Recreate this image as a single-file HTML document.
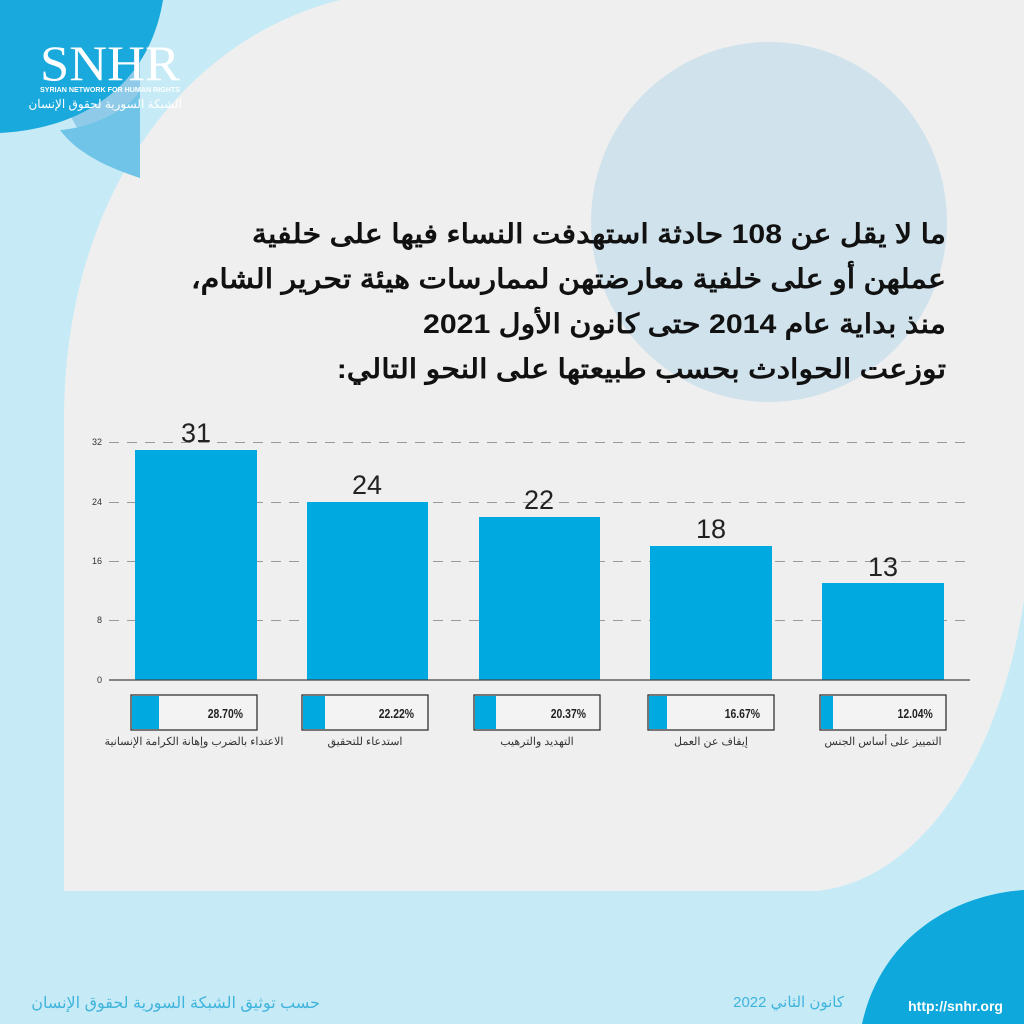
<!DOCTYPE html>
<html><head><meta charset="utf-8"><style>
html,body{margin:0;padding:0;}
body{width:1024px;height:1024px;position:relative;overflow:hidden;background:#c6ebf6;font-family:"Liberation Sans","Noto Sans CJK SC",sans-serif;}
.a{position:absolute;}
.ar{position:absolute;direction:rtl;text-align:right;white-space:nowrap;font-family:"Liberation Sans","Noto Sans CJK SC",sans-serif;}
.lb{position:absolute;width:240px;text-align:center;direction:rtl;white-space:nowrap;font-size:11px;color:#333;top:735px;}
</style></head><body>
<svg class="a" style="left:0;top:0" width="1024" height="1024">
  <path d="M64,891 L64,420 C64,200 180,40 340,0 L1024,0 L1024,600 C1000,760 920,880 817,891 Z" fill="#efefef"/>
  <ellipse cx="769" cy="222" rx="178" ry="180" fill="#d0e2ec"/>
  <path d="M40,0 L140,0 L140,178 C90,160 55,120 40,0Z" fill="#8fcbe8"/>
  <path d="M0,0 L163,0 C150,80 90,128 0,133 Z" fill="#1aa9dd"/>
  <path d="M60,130 C90,128 130,110 140,90 L140,178 C100,165 75,150 60,130Z" fill="#6fc4e8"/>
  <path d="M862,1024 C880,940 950,895 1024,890 L1024,1024Z" fill="#0fa8dc"/>
  <g stroke="#9a9a9a" stroke-width="1" stroke-dasharray="10,8">
    <line x1="109" y1="442.5" x2="970" y2="442.5"/>
    <line x1="109" y1="502.5" x2="970" y2="502.5"/>
    <line x1="109" y1="561.5" x2="970" y2="561.5"/>
    <line x1="109" y1="620.5" x2="970" y2="620.5"/>
  </g>
  <g fill="#00a9df">
    <rect x="135" y="450" width="122" height="230"/>
    <rect x="307" y="502" width="121" height="178"/>
    <rect x="479" y="517" width="121" height="163"/>
    <rect x="650" y="546" width="122" height="134"/>
    <rect x="822" y="583" width="122" height="97"/>
  </g>
  <line x1="109" y1="680" x2="970" y2="680" stroke="#444" stroke-width="1.3"/>
  <g font-family="Liberation Sans" font-size="9" fill="#333" text-anchor="end">
    <text x="102" y="445">32</text><text x="102" y="505">24</text><text x="102" y="564">16</text><text x="102" y="623">8</text><text x="102" y="683">0</text>
  </g>
  <g font-family="Liberation Sans" font-size="27" fill="#222" text-anchor="middle">
    <text x="196" y="442">31</text><text x="367" y="494">24</text><text x="539" y="509">22</text><text x="711" y="538">18</text><text x="883" y="576">13</text>
  </g>
  <g stroke="#333" stroke-width="1.3" fill="#f3f3f3">
    <rect x="131" y="695" width="126" height="35"/>
    <rect x="302" y="695" width="126" height="35"/>
    <rect x="474" y="695" width="126" height="35"/>
    <rect x="648" y="695" width="126" height="35"/>
    <rect x="820" y="695" width="126" height="35"/>
  </g>
  <g fill="#00a9df">
    <rect x="132" y="696" width="27" height="33"/>
    <rect x="303" y="696" width="22" height="33"/>
    <rect x="475" y="696" width="21" height="33"/>
    <rect x="649" y="696" width="18" height="33"/>
    <rect x="821" y="696" width="12" height="33"/>
  </g>
  <g font-family="Liberation Sans" font-size="13" font-weight="bold" fill="#222" text-anchor="end" transform="scale(0.8,1)">
    <text x="303.75" y="718">28.70%</text><text x="517.5" y="718">22.22%</text><text x="732.5" y="718">20.37%</text><text x="950" y="718">16.67%</text><text x="1166" y="718">12.04%</text>
  </g>
  <text x="40" y="80" font-family="Liberation Serif" font-size="50" fill="#fff" textLength="140" lengthAdjust="spacingAndGlyphs">SNHR</text>
  <text x="40" y="92" font-family="Liberation Sans" font-size="7.5" font-weight="bold" fill="#fff" textLength="140" lengthAdjust="spacingAndGlyphs">SYRIAN NETWORK FOR HUMAN RIGHTS</text>
  <text x="1003" y="1011" font-family="Liberation Sans" font-size="14" font-weight="bold" fill="#fff" text-anchor="end">http://snhr.org</text>
</svg>
<div class="ar" style="right:842px;top:97px;font-size:12px;color:#fff;">الشبكة السورية لحقوق الإنسان</div>
<div class="ar" style="right:704px;top:993px;font-size:16px;color:#3fb3dc;">حسب توثيق الشبكة السورية لحقوق الإنسان</div>
<div class="ar" style="right:180px;top:993px;font-size:15px;color:#3fb3dc;">كانون الثاني 2022</div>
<div class="lb" style="left:74px;">الاعتداء بالضرب وإهانة الكرامة الإنسانية</div>
<div class="lb" style="left:245px;">استدعاء للتحقيق</div>
<div class="lb" style="left:417px;">التهديد والترهيب</div>
<div class="lb" style="left:591px;">إيقاف عن العمل</div>
<div class="lb" style="left:763px;">التمييز على أساس الجنس</div>
<div class="ar" style="right:78px;top:212px;width:800px;font-weight:bold;font-size:27px;line-height:45px;color:#111;transform:scaleX(1.12);transform-origin:right top;">
ما لا يقل عن 108 حادثة استهدفت النساء فيها على خلفية<br>
عملهن أو على خلفية معارضتهن لممارسات هيئة تحرير الشام،<br>
منذ بداية عام 2014 حتى كانون الأول 2021<br>
توزعت الحوادث بحسب طبيعتها على النحو التالي:
</div>
</body></html>
